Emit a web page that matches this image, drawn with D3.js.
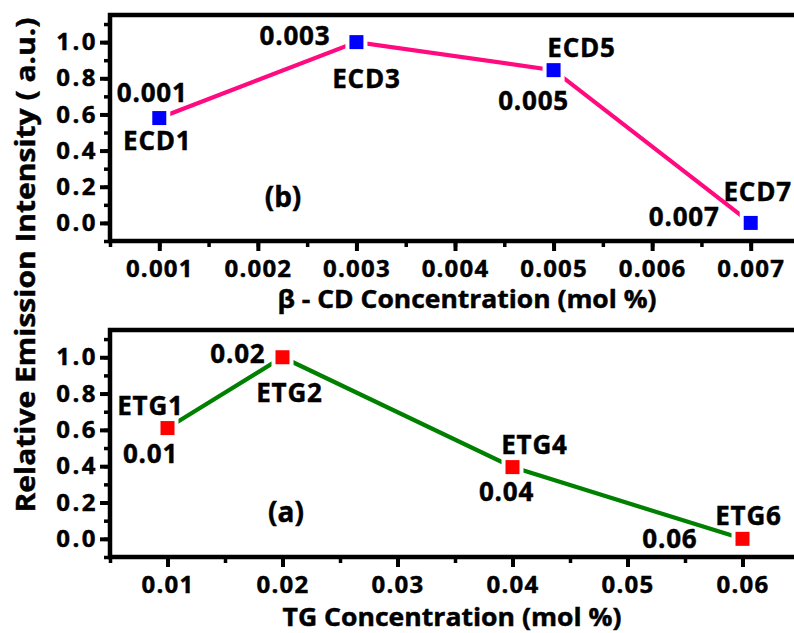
<!DOCTYPE html>
<html>
<head>
<meta charset="utf-8">
<script src="https://cdn.jsdelivr.net/npm/d3@7"></script>
<style>
  body { margin: 0; background: #fff; }
  svg { display: block; font-family: 'Open Sans', sans-serif; font-weight: 700; }
  svg text { stroke: #000; stroke-width: 0.45px; }
</style>
</head>
<body>
<div id="chart"></div>
<script>
// panel (b): beta-CD series
const cdConc = [0.001, 0.003, 0.005, 0.007];
const cdIntensity = [0.58, 1.0, 0.845, 0.0];
const cdSample = ['ECD1', 'ECD3', 'ECD5', 'ECD7'];
const cdConcLabel = ['0.001', '0.003', '0.005', '0.007'];
const cdTicks = [0.001, 0.002, 0.003, 0.004, 0.005, 0.006, 0.007];

// panel (a): TG series
const tgConc = [0.01, 0.02, 0.04, 0.06];
const tgIntensity = [0.61, 1.0, 0.395, 0.0];
const tgSample = ['ETG1', 'ETG2', 'ETG4', 'ETG6'];
const tgConcLabel = ['0.01', '0.02', '0.04', '0.06'];
const tgTicks = [0.01, 0.02, 0.03, 0.04, 0.05, 0.06];

const yTicks = [0, 0.2, 0.4, 0.6, 0.8, 1.0];

const width = 794, height = 633;
const svg = d3.select('#chart').append('svg')
    .attr('width', width)
    .attr('height', height);

// label placement around each point: [dx, dy, anchor]
const cdSampleOff = [[-2, 32, 'middle'], [10, 46, 'middle'], [28, -13, 'middle'], [7, -22, 'middle']];
const cdConcOff = [[-7, -16, 'middle'], [-26, 3, 'end'], [-20, 40, 'middle'], [-31, 3, 'end']];
const tgSampleOff = [[-17, -13, 'middle'], [7, 45, 'middle'], [22, -13, 'middle'], [6, -14, 'middle']];
const tgConcOff = [[-17, 35, 'middle'], [-17, 6, 'end'], [-6, 34, 'middle'], [-45, 9, 'end']];

function panel(opt) {
    const x = d3.scaleLinear().domain(opt.xDomain).range([110, 800]);
    const y = d3.scaleLinear().domain([-0.1, 1.15]).range([opt.bottom, opt.top]);
    const g = svg.append('g');

    // minor ticks
    const [x0, x1] = opt.xDomain;
    const minorX = d3.range(0, 15).map(i => x0 + i * opt.minorStep).filter(v => v <= x1 + 1e-9);
    g.append('g')
        .attr('transform', `translate(0,${opt.bottom})`)
        .call(d3.axisBottom(x).tickValues(minorX).tickSize(6).tickFormat(''))
        .call(a => a.select('.domain').remove())
        .call(a => a.selectAll('line').attr('stroke-width', 3.5));
    g.append('g')
        .attr('transform', 'translate(110,0)')
        .call(d3.axisLeft(y).tickValues(d3.range(-0.1, 1.16, 0.1)).tickSize(6).tickFormat(''))
        .call(a => a.select('.domain').remove())
        .call(a => a.selectAll('line').attr('stroke-width', 3.5));

    // major x ticks
    g.append('g')
        .attr('transform', `translate(0,${opt.bottom})`)
        .call(d3.axisBottom(x).tickValues(opt.ticks).tickSize(10).tickPadding(9).tickFormat(opt.fmt))
        .call(a => a.select('.domain').remove())
        .call(a => a.selectAll('line').attr('stroke-width', 4))
        .call(a => a.selectAll('text').attr('font-size', 24).attr('letter-spacing', 1.2)
            .attr('font-family', "'Open Sans', sans-serif").attr('fill', '#000'));

    // major y ticks
    g.append('g')
        .attr('transform', 'translate(110,0)')
        .call(d3.axisLeft(y).tickValues(yTicks).tickSize(10).tickPadding(2).tickFormat(d3.format('.1f')))
        .call(a => a.select('.domain').remove())
        .call(a => a.selectAll('line').attr('stroke-width', 4))
        .call(a => a.selectAll('text').attr('font-size', 24).attr('letter-spacing', 2.5)
            .attr('font-family', "'Open Sans', sans-serif").attr('fill', '#000'));

    // frame
    g.append('rect')
        .attr('x', x.range()[0]).attr('y', opt.top)
        .attr('width', x.range()[1] - x.range()[0])
        .attr('height', opt.bottom - opt.top)
        .attr('fill', 'none').attr('stroke', '#000').attr('stroke-width', 4.5);

    const pts = opt.xs.map((v, i) => [x(v), y(opt.ys[i])]);

    g.append('path')
        .datum(pts)
        .attr('d', d3.line())
        .attr('fill', 'none')
        .attr('stroke', opt.lineColor)
        .attr('stroke-width', 4.2);

    // markers with a white halo (line gap)
    g.selectAll('.halo').data(pts).enter().append('rect')
        .attr('x', d => d[0] - 11).attr('y', d => d[1] - 11)
        .attr('width', 22).attr('height', 22).attr('fill', '#fff');
    g.selectAll('.mark').data(pts).enter().append('rect')
        .attr('x', d => d[0] - 7).attr('y', d => d[1] - 7)
        .attr('width', 14).attr('height', 14).attr('fill', opt.markColor);

    const addLabels = (texts, offs) => g.selectAll(null).data(texts).enter().append('text')
        .attr('x', (d, i) => pts[i][0] + offs[i][0])
        .attr('y', (d, i) => pts[i][1] + offs[i][1])
        .attr('text-anchor', (d, i) => offs[i][2])
        .attr('font-size', 26).attr('letter-spacing', 0.8)
        .text(d => d);
    addLabels(opt.sample, opt.sampleOff);
    addLabels(opt.concLabel, opt.concOff);

    g.append('text')
        .attr('x', opt.tag[1]).attr('y', opt.tag[2])
        .attr('text-anchor', 'middle').attr('font-size', 28)
        .text(opt.tag[0]);

    g.append('text')
        .attr('x', opt.title[1]).attr('y', opt.title[2])
        .attr('text-anchor', 'middle').attr('font-size', 25)
        .attr('textLength', opt.title[3]).attr('lengthAdjust', 'spacingAndGlyphs')
        .text(opt.title[0]);
}

panel({
    xDomain: [0.0005, 0.0075], minorStep: 0.0005, top: 15, bottom: 241,
    ticks: cdTicks, fmt: d3.format('.3f'),
    xs: cdConc, ys: cdIntensity, sample: cdSample, concLabel: cdConcLabel,
    sampleOff: cdSampleOff, concOff: cdConcOff,
    lineColor: '#ff0a7f', markColor: '#0000ff',
    tag: ['(b)', 283, 207],
    title: ['\u03b2 - CD Concentration (mol %)', 467, 308, 379]
});

panel({
    xDomain: [0.005, 0.065], minorStep: 0.005, top: 330, bottom: 557,
    ticks: tgTicks, fmt: d3.format('.2f'),
    xs: tgConc, ys: tgIntensity, sample: tgSample, concLabel: tgConcLabel,
    sampleOff: tgSampleOff, concOff: tgConcOff,
    lineColor: '#008000', markColor: '#ff0000',
    tag: ['(a)', 286, 522],
    title: ['TG Concentration (mol %)', 452, 626, 339]
});

svg.append('text')
    .attr('transform', 'translate(35,265) rotate(-90)')
    .attr('text-anchor', 'middle')
    .attr('font-size', 26)
    .attr('textLength', 495).attr('lengthAdjust', 'spacingAndGlyphs')
    .text('Relative Emission Intensity ( a.u.)');
</script>
</body>
</html>
